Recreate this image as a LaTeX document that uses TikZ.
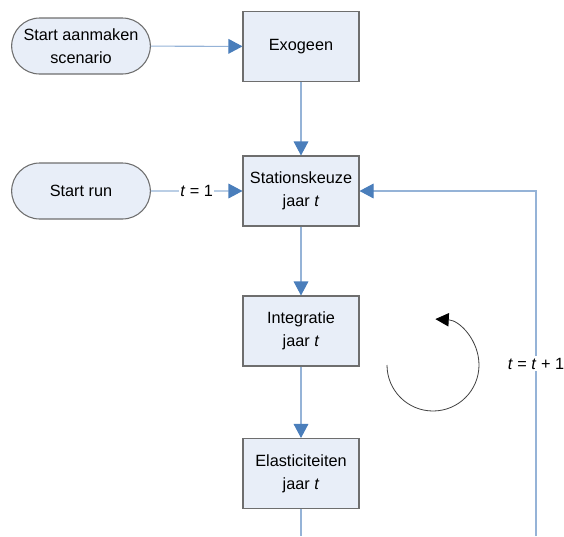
\documentclass[tikz,border=0pt]{standalone}
\usepackage{fontspec}
\setmainfont{Liberation Sans}
\usepackage{tikz}
\usetikzlibrary{arrows.meta,positioning,shapes.misc}
\definecolor{boxfill}{HTML}{E8EEF8}
\definecolor{boxline}{HTML}{6E6E6E}
\definecolor{flowline}{HTML}{95B3D7}
\definecolor{tipblue}{HTML}{4A7EBB}
\tikzset{
  box/.style={rectangle,draw=boxline,fill=boxfill,line width=0.8pt,
    minimum width=87pt,minimum height=52.5pt,inner sep=0pt,align=center},
  startbox/.style={rounded rectangle,draw=boxline,fill=boxfill,line width=0.8pt,
    minimum width=104pt,minimum height=42pt,inner sep=0pt,align=center},
  flow/.style={draw=flowline,line width=0.8pt,
    -{Triangle[length=10.5pt,width=11pt,color=tipblue]}},
  flowlabel/.style={fill=white,inner sep=1pt},
  every node/.style={font=\fontsize{12.2}{17.5}\selectfont}
}

\begin{document}
\begin{tikzpicture}[x=0.75pt,y=0.75pt]
  \useasboundingbox (0,0) rectangle (564,-536);

  % --- start nodes ---
  \node[startbox] (scen) at (81,-46) {Start aanmaken\\scenario};
  \node[startbox] (run) at (81,-191) {Start run};

  % --- main column ---
  \node[box] (exo) at (301,-46.5) {Exogeen};
  \node[box] (stat) at (301,-191) {Stationskeuze\\jaar \textit{t}};
  \node[box] (integ) at (301,-331) {Integratie\\jaar \textit{t}};
  \node[box] (elast) at (301,-473.5) {Elasticiteiten\\jaar \textit{t}};

  \coordinate (down) at (301,-536);
  \coordinate (loopbot) at (536,-536);
  \coordinate (looptop) at (536,-191);

  \draw[flow] (scen) -- (exo);
  \draw[flow] (exo) -- (stat);
  \draw[flow] (run) -- node[flowlabel]{\textit{t} = 1} (stat);
  \draw[flow] (stat) -- (integ);
  \draw[flow] (integ) -- (elast);
  \draw[draw=flowline,line width=0.8pt] (elast) -- (down);

  % --- loop back ---
  \draw[flow] (loopbot) -- node[flowlabel,pos=0.5]{\textit{t} = \textit{t} + 1} (looptop) -- (stat);

  % --- cycle symbol ---
  \draw[line width=0.6pt,draw=black!75,-{Triangle[length=10pt,width=10pt,color=black]}]
    (387,-365) arc[start angle=180,end angle=447,radius=46];
\end{tikzpicture}
\end{document}
